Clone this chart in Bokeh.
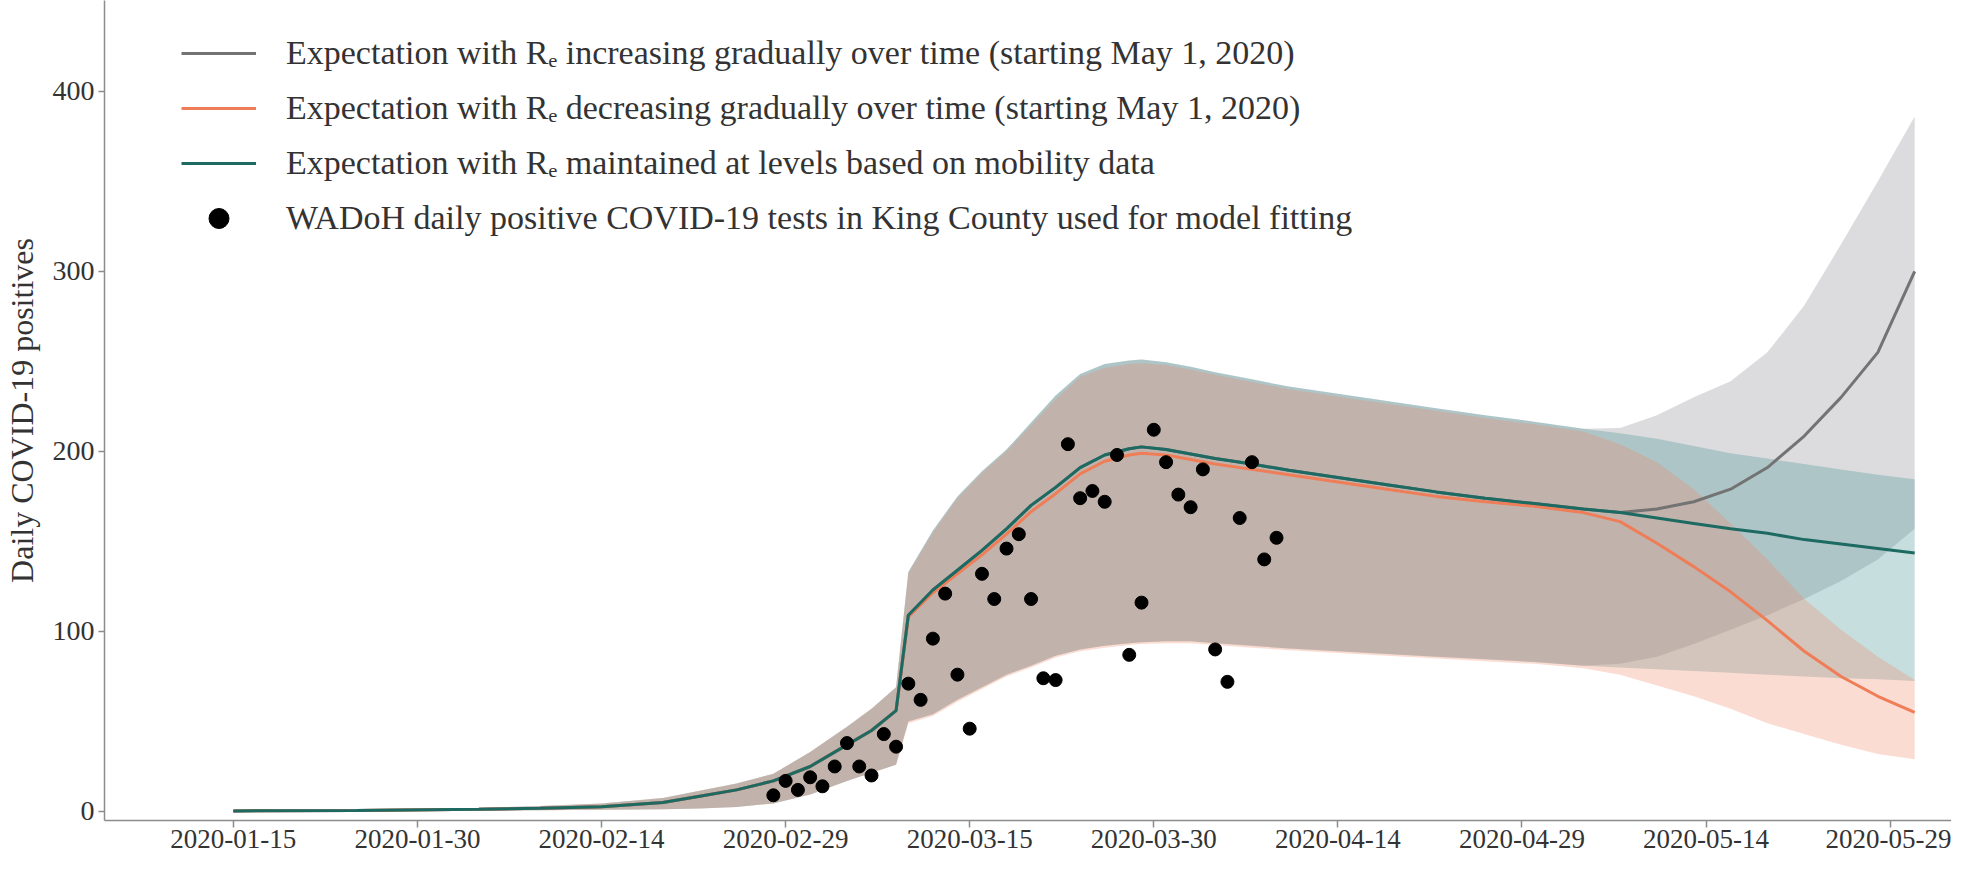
import pandas as pd
from bokeh.plotting import figure
from bokeh.models import Range1d, FixedTicker, DatetimeTickFormatter, Legend, LegendItem
from bokeh.embed import file_html
from bokeh.resources import INLINE

# ---------------- data ----------------
model_dates = ["2020-01-15", "2020-01-25", "2020-02-04", "2020-02-09", "2020-02-14", "2020-02-19",
               "2020-02-22", "2020-02-25", "2020-02-28", "2020-03-02", "2020-03-05", "2020-03-07",
               "2020-03-09", "2020-03-10", "2020-03-12", "2020-03-14", "2020-03-16", "2020-03-18",
               "2020-03-20", "2020-03-22", "2020-03-24", "2020-03-26", "2020-03-28", "2020-03-29",
               "2020-03-31", "2020-04-02", "2020-04-04", "2020-04-07", "2020-04-10", "2020-04-14",
               "2020-04-18", "2020-04-22", "2020-04-26", "2020-04-30", "2020-05-04", "2020-05-07",
               "2020-05-10", "2020-05-13", "2020-05-16", "2020-05-19", "2020-05-22", "2020-05-25",
               "2020-05-28", "2020-05-31"]

# R_e maintained at mobility-based levels (teal)
mobility_mid = [0.3, 0.6, 1.2, 1.8, 2.6, 5, 8.5, 12, 17, 25, 37, 45, 56, 109, 123, 134, 145, 157,
                170, 180, 191, 198, 201.5, 202.5, 201, 198.5, 196, 193, 189.5, 185.5, 181.5, 177.5,
                174, 171, 168, 166, 163, 160, 157, 154.5, 151, 148.5, 146, 143.5]
mobility_lo = [0, 0.2, 0.5, 0.7, 1, 1.3, 1.6, 2.5, 4.5, 9.5, 17, 21.5, 26, 50, 54, 62, 69, 76, 81,
               86.5, 90, 92, 93.5, 94, 94.5, 94.5, 93.5, 92, 90.5, 89, 87.5, 86, 84.5, 83, 81, 80,
               79, 78, 77, 76, 75, 74, 73.5, 72.5]
mobility_hi = [0.6, 1, 2, 3, 4.5, 7.5, 11.5, 15.5, 21, 33, 47, 57, 69, 133, 156, 175, 189, 201,
               216, 231, 243, 248.5, 250.5, 251, 249.5, 247, 244, 240, 236, 232, 228, 224, 220,
               216.5, 212.5, 210, 207, 203, 199, 196, 193, 190, 187, 184.5]

# R_e decreasing gradually (orange)
decreasing_mid = [0.3, 0.6, 1.2, 1.8, 2.6, 5, 8.5, 12, 17, 25, 37, 45, 56, 108, 121.5, 132, 142.5,
                  154, 166.5, 176.5, 187.5, 194.5, 198, 199, 198, 195.5, 193, 190, 187, 183, 179,
                  175, 172, 169.5, 166, 161, 149, 136, 122, 106, 89, 75, 64, 55]
decreasing_lo = [0, 0.2, 0.5, 0.7, 1, 1.3, 1.6, 2.5, 4.5, 9.5, 17, 21.5, 26, 49, 53, 61, 68, 75, 80,
                 85.5, 89, 91, 92.5, 93, 93.5, 93.5, 92.5, 91, 89.5, 88, 86.5, 85, 83.5, 82, 79.5,
                 76, 70, 64, 57, 49, 43, 37, 32, 29]
decreasing_hi = [0.6, 1, 2, 3, 4.5, 7.5, 11.5, 15.5, 21, 33, 47, 57, 69, 132.5, 155, 174, 188, 200,
                 214.5, 229, 241.5, 246.5, 248.5, 249, 248, 245.5, 242.5, 238.5, 234.5, 230.5,
                 226.5, 222.5, 218.5, 215, 211, 204, 194, 179, 160, 140, 118, 101, 86, 73]

# R_e increasing gradually (grey)
increasing_mid = [0.3, 0.6, 1.2, 1.8, 2.6, 5, 8.5, 12, 17, 25, 37, 45, 56, 109, 123, 134, 145, 157,
                  170, 180, 191, 198, 201.5, 202.5, 201, 198.5, 196, 193, 189.5, 185.5, 181.5, 177.5,
                  174, 171, 168, 166, 168, 172, 179, 191, 208.5, 230, 255, 300]
increasing_lo = [0, 0.2, 0.5, 0.7, 1, 1.3, 1.6, 2.5, 4.5, 9.5, 17, 21.5, 26, 50, 54, 62, 69, 76, 81,
                 86.5, 90, 92, 93.5, 94, 94.5, 94.5, 93.5, 92, 90.5, 89, 87.5, 86, 84.5, 83, 81, 82,
                 86, 93, 101, 109, 118, 128, 140, 157]
increasing_hi = [0.6, 1, 2, 3, 4.5, 7.5, 11.5, 15.5, 21, 33, 47, 57, 69, 133, 156, 175, 189, 201,
                 216, 231, 243, 248.5, 250.5, 251, 249.5, 247, 244, 240, 236, 232, 228, 224, 220,
                 216.5, 212.5, 213, 220, 230, 239, 255, 281, 315, 350, 386]

# WADoH daily positive tests, 2020-02-28 .. 2020-04-10
obs_start = "2020-02-28"
obs_values = [9, 17, 12, 19, 14, 25, 38, 25, 20, 43, 36, 71, 62, 96, 121, 76, 46, 132, 118, 146,
              154, 118, 74, 73, 204, 174, 178, 172, 198, 87, 116, 212, 194, 176, 169, 190, 90, 72,
              163, 194, 140, 152]

tick_dates = ["2020-01-15", "2020-01-30", "2020-02-14", "2020-02-29", "2020-03-15",
              "2020-03-30", "2020-04-14", "2020-04-29", "2020-05-14", "2020-05-29"]
y_ticks = [0, 100, 200, 300, 400]

labels = [
    "Expectation with R\u2091 increasing gradually over time (starting May 1, 2020)",
    "Expectation with R\u2091 decreasing gradually over time (starting May 1, 2020)",
    "Expectation with R\u2091 maintained at levels based on mobility data",
    "WADoH daily positive COVID-19 tests in King County used for model fitting",
]

# ---------------- styling ----------------
GREY_LINE, GREY_FILL = "#737373", "#8a8a91"
ORANGE_LINE, ORANGE_FILL = "#ef7d57", "#ee8a69"
TEAL_LINE, TEAL_FILL = "#1d6a62", "#479191"
FONT = "Liberation Serif"
TEXT = "#333333"
AXIS = "#8c8c8c"

x = pd.to_datetime(model_dates)
obs_x = pd.date_range(obs_start, periods=len(obs_values), freq="D")

p = figure(width=1951, height=853, x_axis_type="datetime", output_backend="svg",
           toolbar_location=None,
           x_range=Range1d(pd.Timestamp("2020-01-04 12:00"), pd.Timestamp("2020-06-03 00:00")),
           y_range=Range1d(-5, 450.4),
           min_border_left=98, min_border_right=0, min_border_top=0, min_border_bottom=33)
p.background_fill_color = "white"
p.border_fill_color = "white"
p.outline_line_color = None
p.xgrid.visible = False
p.ygrid.visible = False

p.varea(x=x, y1=increasing_lo, y2=increasing_hi, fill_color=GREY_FILL, fill_alpha=0.3)
p.varea(x=x, y1=mobility_lo, y2=mobility_hi, fill_color=TEAL_FILL, fill_alpha=0.3)
p.varea(x=x, y1=decreasing_lo, y2=decreasing_hi, fill_color=ORANGE_FILL, fill_alpha=0.3)

r_grey = p.line(x, increasing_mid, line_color=GREY_LINE, line_width=3)
r_orange = p.line(x, decreasing_mid, line_color=ORANGE_LINE, line_width=3)
r_teal = p.line(x, mobility_mid, line_color=TEAL_LINE, line_width=3)
r_obs = p.scatter(obs_x, obs_values, size=13, fill_color="black", line_color="black")

legend = Legend(items=[LegendItem(label=labels[0], renderers=[r_grey]),
                       LegendItem(label=labels[1], renderers=[r_orange]),
                       LegendItem(label=labels[2], renderers=[r_teal]),
                       LegendItem(label=labels[3], renderers=[r_obs])],
                location=(77, 577), glyph_width=75, glyph_height=50, label_height=50,
                spacing=5, label_standoff=30, padding=0, margin=0,
                background_fill_alpha=0, border_line_alpha=0,
                label_text_font=FONT, label_text_font_size="34px", label_text_color=TEXT)
p.add_layout(legend)

p.xaxis.ticker = FixedTicker(ticks=[pd.Timestamp(d).value // 10**6 for d in tick_dates])
fmt = "%Y-%m-%d"
p.xaxis.formatter = DatetimeTickFormatter(days=fmt, months=fmt, years=fmt, hours=fmt,
                                          hourmin=fmt, minutes=fmt, minsec=fmt, seconds=fmt,
                                          milliseconds=fmt, microseconds=fmt)
p.yaxis.ticker = FixedTicker(ticks=y_ticks)
p.yaxis.axis_label = "Daily COVID-19 positives"

for ax in (p.xaxis[0], p.yaxis[0]):
    ax.axis_line_color = AXIS
    ax.axis_line_width = 1.5
    ax.major_tick_line_color = AXIS
    ax.major_tick_line_width = 1.5
    ax.major_tick_in = 0
    ax.minor_tick_line_color = None
    ax.major_label_text_font = FONT
    ax.major_label_text_color = TEXT
p.xaxis.major_label_text_font_size = "27px"
p.yaxis.major_label_text_font_size = "28px"
p.xaxis.major_tick_out = 7
p.xaxis.major_label_standoff = 2
p.yaxis.major_tick_out = 6
p.yaxis.major_label_standoff = 4
p.yaxis.axis_label_text_font = FONT
p.yaxis.axis_label_text_font_size = "32px"
p.yaxis.axis_label_text_font_style = "normal"
p.yaxis.axis_label_text_color = TEXT
p.yaxis.axis_label_standoff = 10

open("out.html", "w").write(file_html(p, INLINE))
